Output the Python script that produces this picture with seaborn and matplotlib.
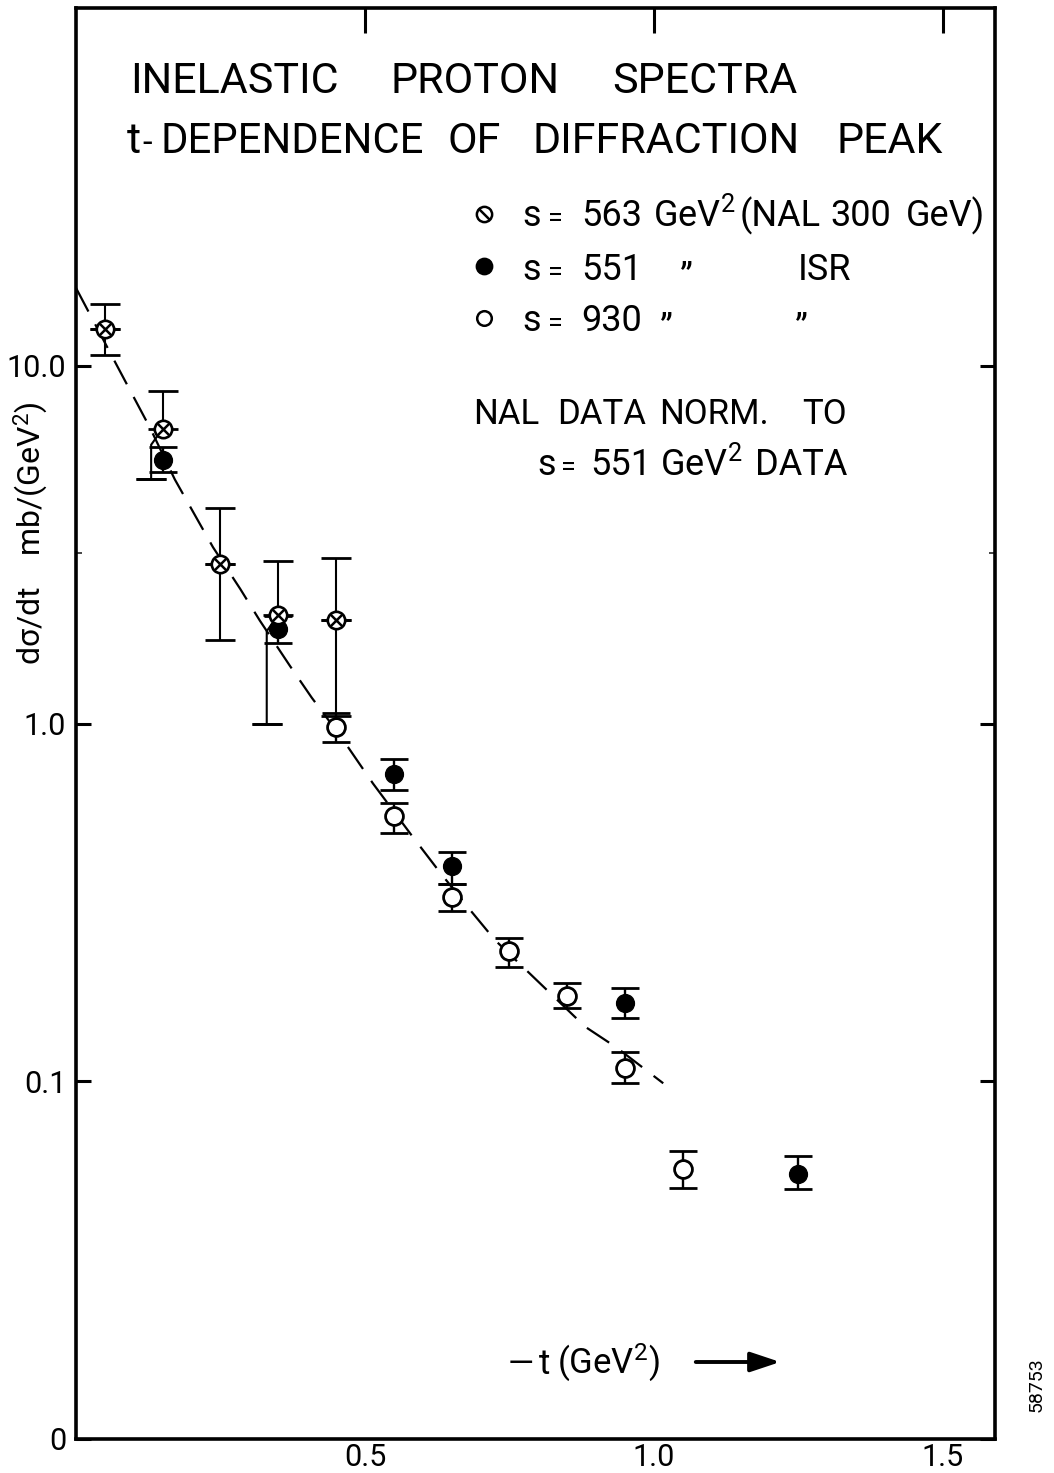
import numpy as np
import matplotlib
matplotlib.use("Agg")
import matplotlib.pyplot as plt
from matplotlib.lines import Line2D
from matplotlib.path import Path
from matplotlib.patches import FancyArrowPatch
import seaborn as sns

# ---- data -------------------------------------------------------------
# NAL 300 GeV, s = 563 GeV^2 (normalised to s = 551 GeV^2)
nal_t = [0.05, 0.15, 0.25, 0.35, 0.45]
nal_y = [12.7, 6.67, 2.80, 2.01, 1.95]
nal_hi = [14.9, 8.5, 4.0, 2.85, 2.9]
nal_lo = [10.7, 4.81, 1.71, 1.0, 1.05]
# lower bars drawn with a dog-leg (to clear the ISR points below them)
nal_dogleg = [False, True, False, True, False]

# ISR, s = 551 GeV^2
isr551_t = [0.15, 0.35, 0.55, 0.65, 0.95, 1.25]
isr551_y = [5.46, 1.84, 0.724, 0.399, 0.165, 0.0550]
isr551_hi = [5.94, 2.0, 0.797, 0.438, 0.182, 0.0618]
isr551_lo = [5.06, 1.68, 0.650, 0.357, 0.150, 0.0499]

# ISR, s = 930 GeV^2
isr930_t = [0.45, 0.55, 0.65, 0.75, 0.85, 0.95, 1.05]
isr930_y = [0.98, 0.553, 0.327, 0.231, 0.173, 0.109, 0.0568]
isr930_hi = [1.07, 0.601, 0.357, 0.251, 0.188, 0.121, 0.0637]
isr930_lo = [0.885, 0.493, 0.299, 0.208, 0.160, 0.0987, 0.0503]

# dashed guide curve
fit_t = [0.0, 0.071, 0.128, 0.171, 0.237, 0.284, 0.318, 0.370, 0.408,
         0.457, 0.514, 0.581, 0.630, 0.682, 0.725, 0.798, 0.881, 0.936, 1.016]
fit_y = [16.5, 10.0, 6.71, 4.81, 3.11, 2.38, 1.94, 1.45, 1.18,
         0.925, 0.679, 0.486, 0.383, 0.301, 0.248, 0.191, 0.142, 0.124, 0.0987]

x_ticks = [0.5, 1.0, 1.5]
x_ticklabels = ["0.5", "1.0", "1.5"]
y_ticks = [0.01, 0.1, 1.0, 10.0]
y_ticklabels = ["0", "0.1", "1.0", "10.0"]

# ---- style ------------------------------------------------------------
sns.set_style("white")
FONT = ["Roboto", "DejaVu Sans"]
plt.rcParams["font.family"] = FONT
plt.rcParams["mathtext.fontset"] = "custom"
plt.rcParams["mathtext.rm"] = "Roboto"
plt.rcParams["mathtext.it"] = "Roboto:italic"
plt.rcParams["mathtext.bf"] = "Roboto:bold"
plt.rcParams["text.color"] = "black"

W, H = 1054, 1473
fig = plt.figure(figsize=(W / 100, H / 100), dpi=100)
L, R, T, B = 76, 995, 8, 1439
ax = fig.add_axes([L / W, 1 - B / H, (R - L) / W, (B - T) / H])
ax.set_yscale("log")
ax.set_xlim(0, 1.59)
ax.set_ylim(0.01, 100)

for sp in ax.spines.values():
    sp.set_linewidth(2.6)
    sp.set_color("black")

ax.set_xticks(x_ticks)
ax.set_xticklabels(x_ticklabels)
ax.set_yticks(y_ticks)
ax.set_yticklabels(y_ticklabels)
ax.yaxis.set_minor_locator(matplotlib.ticker.FixedLocator([3.0]))
ax.yaxis.set_minor_formatter(matplotlib.ticker.NullFormatter())
ax.tick_params(axis="both", which="major", direction="in", top=True,
               right=True, width=2.2, color="black", labelsize=22,
               labelcolor="black")
ax.tick_params(axis="x", which="major", length=18, pad=3)
ax.tick_params(axis="y", which="major", length=11, pad=7)
ax.tick_params(axis="y", which="minor", direction="in", length=4,
               width=1.2, left=True, right=False)
ax.yaxis.set_ticks_position("both")

# ---- guide curve ------------------------------------------------------
lw_fit = 1.6
sns.lineplot(x=fit_t, y=fit_y, ax=ax, color="black", lw=lw_fit,
             linestyle=(0, (12.0, 6.5)), legend=False)

# ---- error bars -------------------------------------------------------
ebkw = dict(fmt="none", ecolor="black", elinewidth=1.7, capsize=10,
            capthick=2.0, zorder=3)


def asym(y, lo, hi):
    y, lo, hi = map(np.asarray, (y, lo, hi))
    return np.vstack([y - lo, hi - y])


ax.errorbar(isr551_t, isr551_y, yerr=asym(isr551_y, isr551_lo, isr551_hi), **ebkw)
ax.errorbar(isr930_t, isr930_y, yerr=asym(isr930_y, isr930_lo, isr930_hi), **ebkw)

# NAL: straight upper bars, lower bars either straight or dog-legged
nt, ny, nh, nl = map(np.asarray, (nal_t, nal_y, nal_hi, nal_lo))
dog = np.asarray(nal_dogleg)
nalkw = dict(fmt="none", ecolor="black", elinewidth=1.5, capsize=11,
             capthick=2.0, zorder=3)
ax.errorbar(nt, ny, yerr=np.vstack([np.zeros_like(ny), nh - ny]), **nalkw)
ax.errorbar(nt[~dog], ny[~dog],
            yerr=np.vstack([ny[~dog] - nl[~dog], np.zeros((~dog).sum())]),
            **nalkw)
shift = 0.02
for t, y, lo in zip(nt[dog], ny[dog], nl[dog]):
    knee = y * 10 ** (-0.045)
    ax.plot([t, t - shift, t - shift], [y, knee, lo], color="black",
            lw=1.5, zorder=3, solid_joinstyle="miter")
    ax.errorbar([t - shift], [lo], yerr=[[0], [0]], **nalkw)

# ---- markers ----------------------------------------------------------
msize = 165
sns.scatterplot(x=isr930_t, y=isr930_y, ax=ax, marker="o", s=msize,
                facecolor="white", edgecolor="black", linewidth=2.0,
                zorder=4, legend=False)
sns.scatterplot(x=isr551_t, y=isr551_y, ax=ax, marker="o", s=msize,
                color="black", edgecolor="black", linewidth=1.0,
                zorder=4, legend=False)
sns.scatterplot(x=nal_t, y=nal_y, ax=ax, marker="o", s=msize * 0.95,
                facecolor="white", edgecolor="black", linewidth=1.9,
                zorder=5, legend=False)
sns.scatterplot(x=nal_t, y=nal_y, ax=ax, marker="x", s=msize * 0.42,
                color="black", linewidth=1.8, zorder=6, legend=False)


# ---- annotations (figure pixel coordinates) ---------------------------
def fx(x):
    return x / W


def fy(y):
    return 1 - y / H


def put(x, y, s, size, **kw):
    kw.setdefault("ha", "left")
    kw.setdefault("va", "baseline")
    fig.text(fx(x), fy(y), s, fontsize=size, **kw)


TS = 31
for x, w in [(130, "INELASTIC"), (390, "PROTON"), (612, "SPECTRA")]:
    put(x, 93, w, TS)
put(127, 153, "t", TS)
put(142, 153, "-", TS * 0.8)
put(160, 153, "DEPENDENCE", TS * 0.97)
for x, w in [(447, "OF"), (533, "DIFFRACTION"), (836, "PEAK")]:
    put(x, 153, w, TS)

# key symbols
slash_circle = Path.make_compound_path(
    Path.unit_circle(),
    Path([(-0.7, 0.7), (0.7, -0.7)], [Path.MOVETO, Path.LINETO]))
for yy, mk, fc, ms in [(214, slash_circle, "white", 11),
                       (266, "o", "black", 11),
                       (318, "o", "white", 10.5)]:
    fig.add_artist(Line2D([fx(484)], [fy(yy)], transform=fig.transFigure,
                          marker=mk, markersize=ms, markerfacecolor=fc,
                          markeredgecolor="black", markeredgewidth=1.8,
                          linestyle="none"))

KS = 26
for yb, val in [(226, "563"), (280, "551"), (331, "930")]:
    put(522, yb, "s", KS)
    put(548, yb, "=", KS * 0.75)
    put(581, yb, val, KS)
put(653, 226, "GeV$^{2}$", KS)
put(740, 226, "(NAL", KS)
put(830, 226, "300", KS)
put(906, 226, "GeV)", KS)
put(680, 288, "\u201d", KS)
put(798, 280, "ISR", KS)
put(660, 339, "\u201d", KS)
put(795, 339, "\u201d", KS)

NS = 25
put(473, 424, "NAL", NS)
put(557, 424, "DATA", NS)
put(659, 424, "NORM.", NS)
put(802, 424, "TO", NS)
put(537, 475, "s", KS)
put(561, 475, "=", KS * 0.75)
put(590, 475, "551", KS)
put(660, 475, "GeV$^{2}$", KS)
put(755, 475, "DATA", KS)

# axis titles
put(508, 1374, "\u2014", 24)
put(539, 1374, "t", 25)
put(557, 1374, "(GeV$^{2}$)", 25)
fig.add_artist(FancyArrowPatch(
    (fx(693), fy(1362)), (fx(783), fy(1362)), transform=fig.transFigure,
    arrowstyle="-|>,head_length=18,head_width=6", mutation_scale=1,
    color="black", lw=2.8))

fig.text(fx(31), fy(533), "d\u03c3/dt    mb/(GeV$^{2}$)", rotation=90,
         ha="center", va="center", fontsize=23)

fig.text(fx(1037), fy(1385), "58753", rotation=90, ha="center",
         va="center", fontsize=14)

fig.savefig("out.png", dpi=100, facecolor="white")
